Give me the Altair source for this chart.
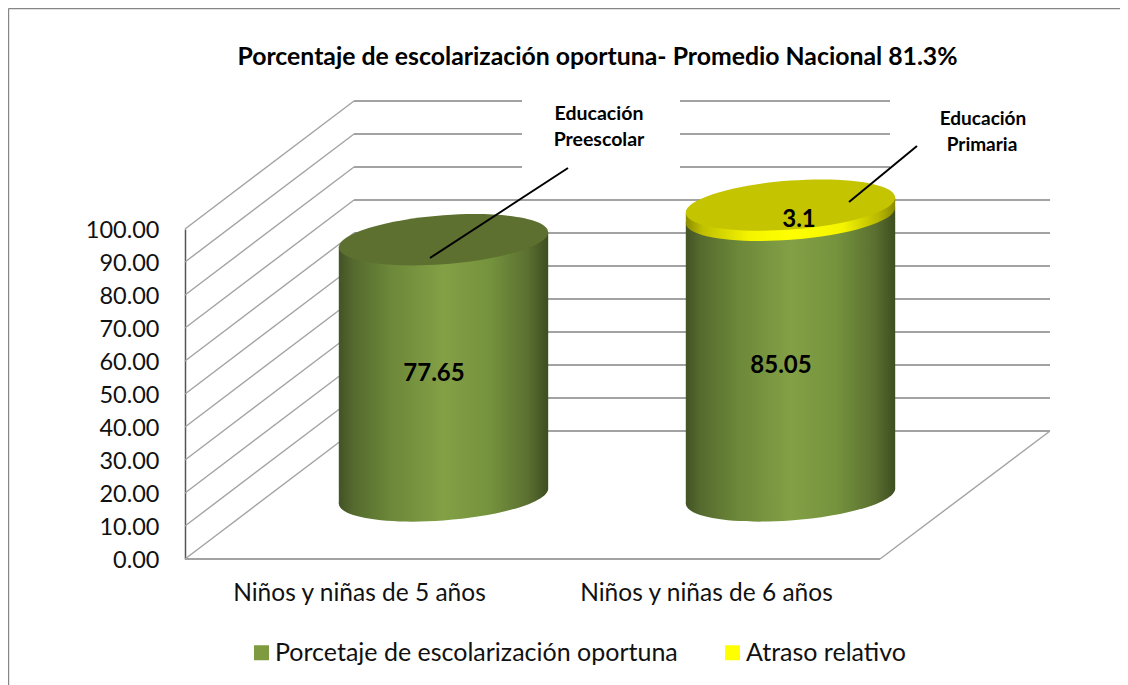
import altair as alt
import pandas as pd

# ---- values
categories = ["Niños y niñas de 5 años", "Niños y niñas de 6 años"]
oportuna = [77.65, 85.05]
atraso = [0.0, 3.1]
series_names = ["Porcetaje de escolarización oportuna", "Atraso relativo"]
y_ticks = [0, 10, 20, 30, 40, 50, 60, 70, 80, 90, 100]
title_text = "Porcentaje de escolarización oportuna- Promedio Nacional 81.3%"

# ---- geometry of the fake 3-D box, in scale units
W, H = 695, 330
UNIT = H / 100
DX, DY = 169, 38.8          # depth of the box
CENTERS = [174, 521]        # category centres on the front edge
R = 104.7                   # cylinder radius along x
TILT = 2.3                  # tilt of the ellipses, in y units
BASE = DY / 2 - 0.3
FONT = "Lato"


def ux(px):
    return px - 185


def uy(py):
    return (559 - py) / UNIT


def ellipse(a, b):
    k = 0.5523
    p = [
        f"M1,{-a}",
        f"C1,{-a + k * b},{k},{b - k * a},0,{b}",
        f"C{-k},{b + k * a},-1,{a + k * b},-1,{a}",
        f"C-1,{a - k * b},{-k},{-b + k * a},0,{-b}",
        f"C{k},{-b - k * a},1,{-a - k * b},1,{-a}Z",
    ]
    return "".join(p)


ELL = ellipse(TILT * UNIT / R, 24.5 / R)
ELL_SIZE = (2 * R) ** 2


def grad(stops):
    return alt.LinearGradient(
        gradient="linear", x1=0, x2=1, y1=0, y2=0,
        stops=[alt.GradientStop(offset=o, color=c) for o, c in stops],
    )


G_GREEN = grad([(0, "#435326"), (0.07, "#556a2e"), (0.25, "#6c8839"), (0.5, "#83a046"),
                (0.72, "#75933d"), (0.9, "#5b7031"), (1, "#3e4e20")])
G_YELLOW = grad([(0, "#8c8c00"), (0.08, "#c0c000"), (0.3, "#f4f400"), (0.5, "#ffff00"),
                 (0.75, "#f4f400"), (0.92, "#b8b800"), (1, "#8a8a00")])

x_s = alt.Scale(domain=[0, W], nice=False, zero=False)
y_s = alt.Scale(domain=[0, 100], nice=False, zero=False)
X = alt.X("x:Q", scale=x_s, title=None,
          axis=alt.Axis(values=CENTERS, grid=False, domain=False, ticks=False, labelPadding=22,
                        labelFontSize=24.5, labelFont=FONT, labelColor="#111111",
                        labelFlush=False, labelOverlap=False, labelLimit=400,
                        labelExpr=f"datum.value < 300 ? '{categories[0]}' : '{categories[1]}'"))
Y = alt.Y("y:Q", scale=y_s, title=None,
          axis=alt.Axis(values=y_ticks, format=".2f", grid=False, ticks=False, labelPadding=26,
                        labelOffset=1,
                        labelFontSize=23.5, labelFont=FONT, labelColor="#111111",
                        domainColor="#555555", domainWidth=1.5, labelOverlap=False, labelFlush=False))

# ---- wall and floor lines
walls = []
for v in y_ticks:
    end = W + DX + 1 if v <= 70 else ux(890)
    walls.append(dict(x=DX, x2=end, y=v + DY, y2=v + DY, kind="h"))
    walls.append(dict(x=0, x2=DX, y=v, y2=v + DY, kind="d"))
walls.append(dict(x=0, x2=W, y=0, y2=0, kind="h"))
walls.append(dict(x=W, x2=W + DX + 1, y=0, y2=DY, kind="d"))
walls = pd.DataFrame(walls)

x2f, y2f = alt.X2("x2:Q"), alt.Y2("y2:Q")
wall_h = alt.Chart(walls[walls.kind == "h"]).mark_rule(color="#a3a3a3", strokeWidth=2).encode(x=X, x2=x2f, y=Y, y2=y2f)
wall_d = alt.Chart(walls[walls.kind == "d"]).mark_rule(color="#a3a3a3", strokeWidth=1.4).encode(x=X, x2=x2f, y=Y, y2=y2f)

# frame of the picture
fx0, fy0 = ux(8.5), uy(8.5)
frame = pd.DataFrame([dict(x=fx0, x2=ux(1128), y=fy0, y2=fy0), dict(x=fx0, x2=fx0, y=fy0, y2=uy(685))])
frame_c = alt.Chart(frame).mark_rule(color="#868686", strokeWidth=1.4).encode(x=X, x2=x2f, y=Y, y2=y2f)

# white text box hiding the wall lines behind the note
box = pd.DataFrame([dict(x=ux(522), x2=ux(680), y=uy(172), y2=uy(92))])
box_c = alt.Chart(box).mark_rect(color="white").encode(x=X, x2=x2f, y=Y, y2=y2f)

# ---- real stacked values, drives the legend (covered by the cylinder faces)
cx = [c + DX / 2 for c in CENTERS]
stack = []
for c, a, b in zip(cx, oportuna, atraso):
    stack.append(dict(x=c - 50, x2=c + 50, y=BASE, y2=BASE + a, s=series_names[0]))
    stack.append(dict(x=c - 50, x2=c + 50, y=BASE + a, y2=BASE + a + b, s=series_names[1]))
stack = pd.DataFrame(stack)
stack_c = alt.Chart(stack).mark_rect().encode(
    x=X, x2=x2f, y=Y, y2=y2f,
    color=alt.Color("s:N", scale=alt.Scale(domain=series_names, range=["#7f9b3f", "#ffff00"]),
                    legend=alt.Legend(orient="none", legendX=64, legendY=411, direction="horizontal",
                                      title=None, symbolType="square", symbolSize=225,
                                      symbolStrokeWidth=0, labelFontSize=25, labelFont=FONT,
                                      labelColor="#111111", labelLimit=500, columnPadding=42,
                                      labelOffset=1, columns=2)),
)


def face(rows):
    out = []
    for i, (c, lo, hi) in enumerate(rows):
        out.append(dict(id=i, x=c - R, y=lo - TILT, y2=hi - TILT))
        out.append(dict(id=i, x=c + R, y=lo + TILT, y2=hi + TILT))
    return pd.DataFrame(out)


def disc(rows, fill):
    df = pd.DataFrame([dict(x=c, y=v) for c, v in rows])
    return alt.Chart(df).mark_point(shape=ELL, size=ELL_SIZE, filled=True, fill=fill, opacity=1,
                                    strokeWidth=0).encode(x=X, y=Y)


def side(rows, fill):
    return alt.Chart(face(rows)).mark_area(fill=fill, opacity=1).encode(
        x=X, y=Y, y2=y2f, detail="id:N")


green_rows = [(c, BASE, BASE + a) for c, a in zip(cx, oportuna)]
yellow_rows = [(c, BASE + a, BASE + a + b) for c, a, b in zip(cx, oportuna, atraso) if b > 0]

layers = [
    frame_c, wall_h, wall_d, box_c, stack_c,
    disc([(c, BASE) for c in cx], G_GREEN),
    side(green_rows, G_GREEN),
    disc([(c, lo) for c, lo, hi in yellow_rows], G_YELLOW),
    side(yellow_rows, G_YELLOW),
    disc([(cx[0], BASE + oportuna[0])], "#5d7030"),
    disc([(c, hi) for c, lo, hi in yellow_rows], "#c4c400"),
]

# ---- leader lines
leaders = pd.DataFrame([
    dict(x=ux(430), x2=ux(568), y=uy(258), y2=uy(168)),
    dict(x=ux(849), x2=ux(917), y=uy(202), y2=uy(146)),
])
layers.append(alt.Chart(leaders).mark_rule(color="black", strokeWidth=2).encode(x=X, x2=x2f, y=Y, y2=y2f))

# ---- data labels
dl = pd.DataFrame([
    dict(x=ux(434), y=uy(374), t=f"{oportuna[0]:.2f}"),
    dict(x=ux(781), y=uy(366), t=f"{oportuna[1]:.2f}"),
    dict(x=ux(799), y=uy(220), t=f"{atraso[1]:.1f}"),
])
layers.append(alt.Chart(dl).mark_text(font=FONT, fontWeight="bold", fontSize=24, color="black").encode(
    x=X, y=Y, text="t:N"))

# ---- notes
notes = pd.DataFrame([
    dict(x=ux(599), y=uy(114), t="Educación", s="a"),
    dict(x=ux(599), y=uy(140), t="Preescolar", s="a"),
    dict(x=ux(983), y=uy(119), t="Educación", s="b"),
    dict(x=ux(982), y=uy(145), t="Primaria", s="b"),
])
layers.append(alt.Chart(notes[notes.s == "a"]).mark_text(font=FONT, fontWeight="bold", fontSize=19.5, color="black").encode(
    x=X, y=Y, text="t:N"))
layers.append(alt.Chart(notes[notes.s == "b"]).mark_text(font=FONT, fontWeight="bold", fontSize=19, color="black").encode(
    x=X, y=Y, text="t:N"))

chart = (
    alt.layer(*layers)
    .properties(
        width=W, height=H,
        autosize=alt.AutoSizeParams(type="none"),
        padding={"left": 177, "top": 221, "right": 240, "bottom": 126},
        title=alt.TitleParams(title_text, font=FONT, fontWeight="bold", fontSize=24.8, color="black",
                              anchor="middle", dx=65, dy=72, offset=10),
        background="white",
    )
    .configure_view(stroke=None)
)
chart.save("out.html", embed_options={"renderer": "svg", "actions": False})
